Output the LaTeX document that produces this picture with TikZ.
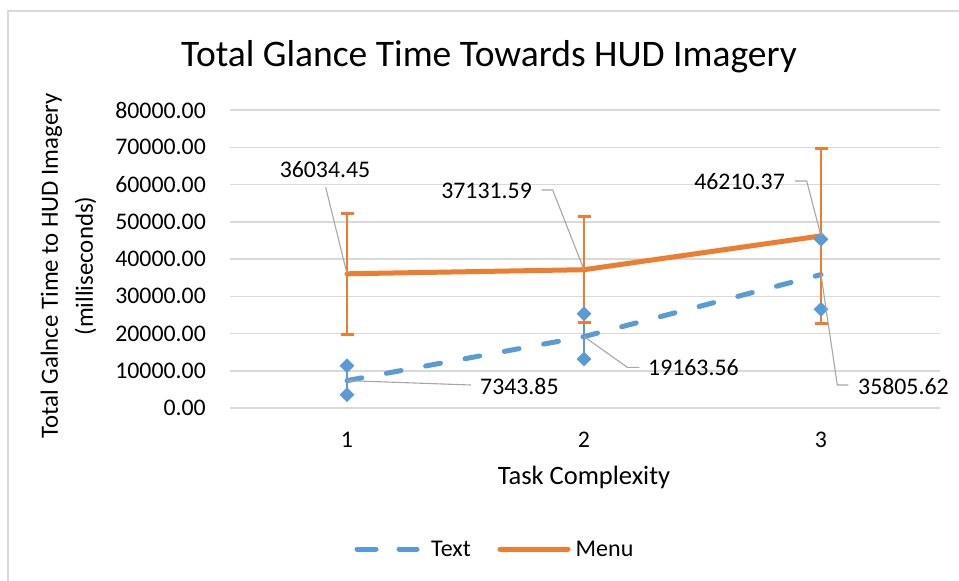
\documentclass[tikz,border=0pt]{standalone}
\usepackage{fontspec}
\setmainfont{Carlito}
\usetikzlibrary{shapes.geometric}
\definecolor{xblue}{HTML}{5B9BD5}
\definecolor{xorange}{HTML}{ED7D31}
\definecolor{xgrid}{HTML}{D9D9D9}
\definecolor{xlead}{HTML}{A6A6A6}
\tikzset{
  gridline/.style={draw=xgrid, line width=1.5pt},
  ticklab/.style={anchor=east, inner sep=0pt, font=\fontsize{23.8}{26}\selectfont},
  xlab/.style={anchor=center, inner sep=0pt, font=\fontsize{23.8}{26}\selectfont},
  datalab/.style={inner sep=0pt, font=\fontsize{23.8}{26}\selectfont},
  leader/.style={draw=xlead, line width=1.1pt},
  menuline/.style={draw=xorange, line width=5pt, line join=round, line cap=round},
  textline/.style={draw=xblue, line width=5pt, line cap=round, dash pattern=on 15pt off 25pt},
  ebar/.style={draw=xorange, line width=2.6pt},
  bbar/.style={draw=xblue, line width=2.6pt},
  dmark/.style={diamond, fill=xblue, inner sep=0pt, minimum size=15pt},
}
\begin{document}
\begin{tikzpicture}[x=1pt,y=-1pt]
\useasboundingbox (0,0) rectangle (959,581);
% frame
\coordinate (fa) at (8,581);
\coordinate (fb) at (8,11);
\coordinate (fc) at (959,11);
\draw[draw=xgrid, line width=1.5pt] (fa) -- (fb) -- (fc);
% title
\node[inner sep=0pt, font=\fontsize{37.5}{40}\selectfont] (title) at (489,57) {Total Glance Time Towards HUD Imagery};
% grid and tick labels
\foreach \k/\lab in {0/0.00,1/10000.00,2/20000.00,3/30000.00,4/40000.00,5/50000.00,6/60000.00,7/70000.00,8/80000.00}{
  \coordinate (gl\k) at (230,408-\k*37.25);
  \coordinate (gr\k) at (940,408-\k*37.25);
  \draw[gridline] (gl\k) -- (gr\k);
  \node[ticklab] (t\k) at (206,408-\k*37.25) {\lab};
}
% x labels
\node[xlab] (x1) at (347,440) {1};
\node[xlab] (x2) at (584,440) {2};
\node[xlab] (x3) at (821,440) {3};
\node[xlab, font=\fontsize{26.5}{28}\selectfont] (xtitle) at (584,477) {Task Complexity};
% y title
\node[rotate=90, align=center, inner sep=0pt, font=\fontsize{24.8}{35}\selectfont] (ytitle) at (68.5,266) {Total Galnce Time to HUD Imagery\\(milliseconds)};
% data coordinates
\coordinate (m1) at (347,273.8);
\coordinate (m2) at (584,269.7);
\coordinate (m3) at (821,235.9);
\coordinate (s1) at (347,380.6);
\coordinate (s2) at (584,336.6);
\coordinate (s3) at (821,274.6);
% text error bars (lines)
\coordinate (bt1) at (347,365.7); \coordinate (bb1) at (347,394.7);
\coordinate (bt2) at (584,313.7); \coordinate (bb2) at (584,359.0);
\coordinate (bt3) at (821,239.3); \coordinate (bb3) at (821,309.3);
\draw[bbar] (bt1) -- (bb1);
\draw[bbar] (bt2) -- (bb2);
\draw[bbar] (bt3) -- (bb3);
% series lines
\draw[textline] (s1) -- (s2) -- (s3);
\draw[menuline] (m1) -- (m2) -- (m3);
% menu error bars
\foreach \i/\x/\t/\b in {1/347/213.3/334.3, 2/584/216.3/322.7, 3/821/148.3/323.3}{
  \coordinate (et\i) at (\x,\t);
  \coordinate (eb\i) at (\x,\b);
  \coordinate (etl\i) at (\x-6.5,\t); \coordinate (etr\i) at (\x+6.5,\t);
  \coordinate (ebl\i) at (\x-6.5,\b); \coordinate (ebr\i) at (\x+6.5,\b);
  \draw[ebar] (et\i) -- (eb\i);
  \draw[ebar] (etl\i) -- (etr\i);
  \draw[ebar] (ebl\i) -- (ebr\i);
}
% diamonds
\node[dmark] (d1a) at (bt1) {};
\node[dmark] (d1b) at (bb1) {};
\node[dmark] (d2a) at (bt2) {};
\node[dmark] (d2b) at (bb2) {};
\node[dmark] (d3a) at (bt3) {};
\node[dmark] (d3b) at (bb3) {};
% data labels
\node[datalab] (lm1) at (325,170) {36034.45};
\node[datalab, anchor=east] (lm2) at (532,191) {37131.59};
\node[datalab, anchor=east] (lm3) at (785,182) {46210.37};
\node[datalab, anchor=west] (ls1) at (480,386) {7343.85};
\node[datalab, anchor=west] (ls2) at (648,368) {19163.56};
\node[datalab, anchor=west] (ls3) at (858,386) {35805.62};
% leader lines
\coordinate (q1) at (325.7,187.3);
\draw[leader] (q1) -- (m1);
\coordinate (q2a) at (541.7,190); \coordinate (q2b) at (552.7,190);
\draw[leader] (q2a) -- (q2b) -- (m2);
\coordinate (q3a) at (795,181); \coordinate (q3b) at (806.7,181);
\draw[leader] (q3a) -- (q3b) -- (m3);
\coordinate (r1) at (471,385);
\draw[leader] (s1) -- (r1);
\coordinate (r2a) at (627.3,367.3); \coordinate (r2b) at (639.3,367.3);
\draw[leader] (s2) -- (r2a) -- (r2b);
\coordinate (r3a) at (837.3,385); \coordinate (r3b) at (848.3,385);
\draw[leader] (s3) -- (r3a) -- (r3b);
% legend
\coordinate (lga) at (357,549); \coordinate (lgb) at (417,549);
\draw[draw=xblue, line width=5pt, line cap=round, dash pattern=on 19pt off 23pt] (lga) -- (lgb);
\node[anchor=west, inner sep=0pt, font=\fontsize{24}{26}\selectfont] (lgt) at (431,549) {Text};
\coordinate (lgc) at (500,549); \coordinate (lgd) at (568,549);
\draw[draw=xorange, line width=5pt, line cap=round] (lgc) -- (lgd);
\node[anchor=west, inner sep=0pt, font=\fontsize{24}{26}\selectfont] (lgm) at (575.5,549) {Menu};
\end{tikzpicture}
\end{document}
